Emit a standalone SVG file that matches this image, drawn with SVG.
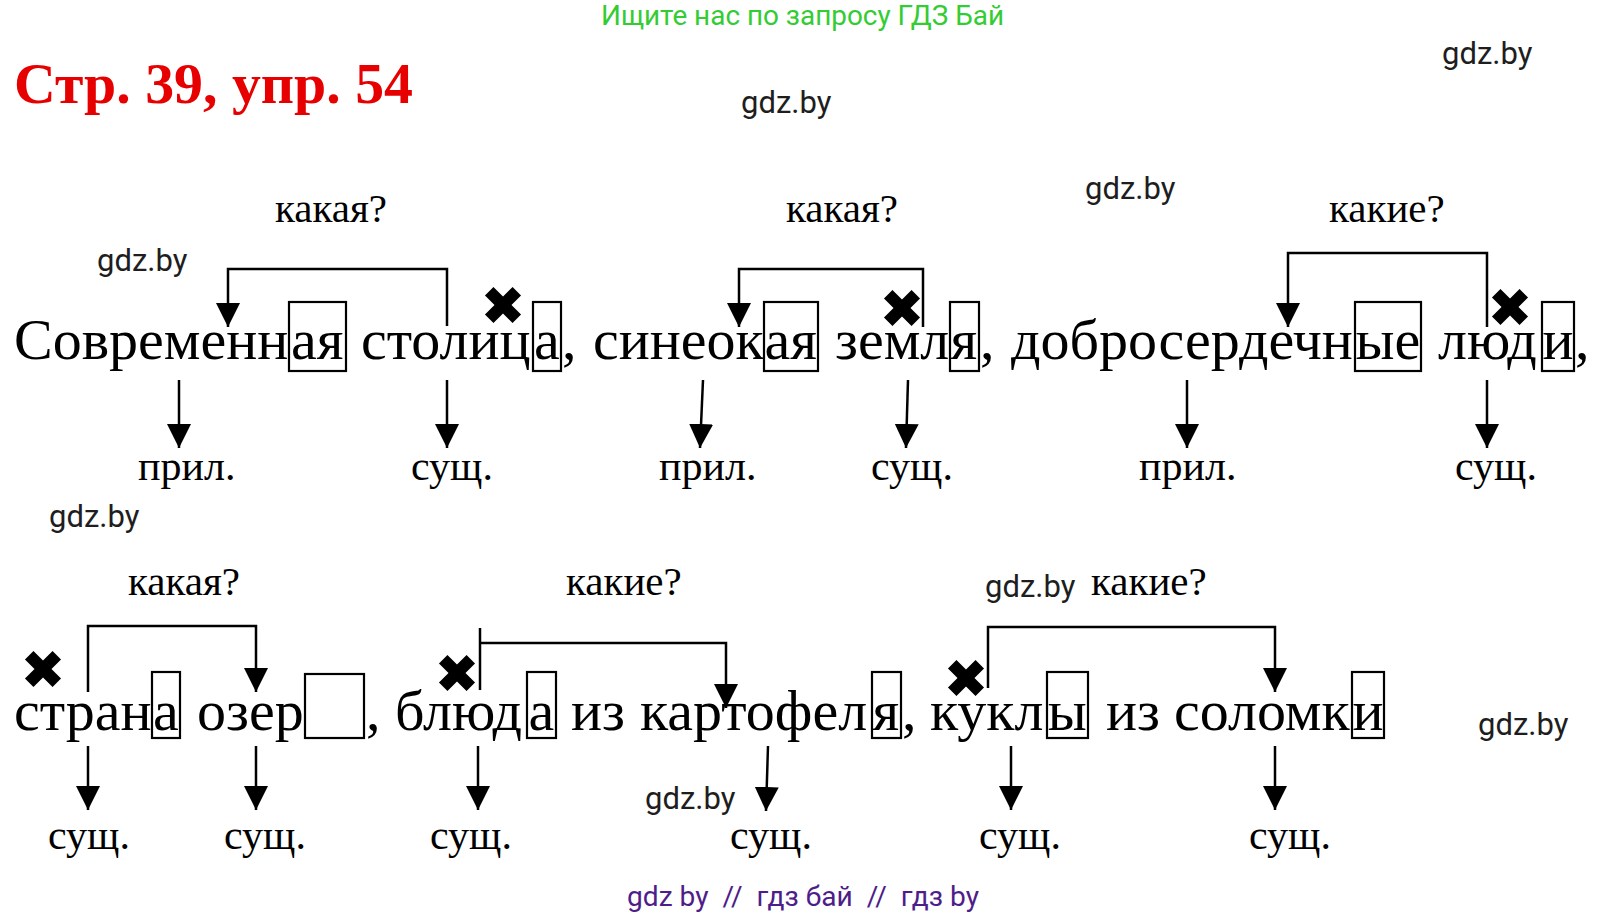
<svg xmlns="http://www.w3.org/2000/svg" xmlns:xlink="http://www.w3.org/1999/xlink" width="1608" height="917" viewBox="0 0 1608 917">
<style>
.main{font-family:"Liberation Serif","Times New Roman",serif;font-size:58px;fill:#000}
.lab{font-family:"Liberation Serif","Times New Roman",serif;font-size:42px;fill:#000}
.q{font-family:"Liberation Serif","Times New Roman",serif;font-size:41px;fill:#000}
.wm{font-family:Roboto,"Noto Sans",sans-serif;font-size:31px;fill:#1e1e1e}
.box{fill:none;stroke:#000;stroke-width:2.2}
.ln{fill:none;stroke:#000;stroke-width:2.5}
.arr{marker-end:url(#ah)}
</style>
<defs>
<marker id="ah" markerUnits="userSpaceOnUse" markerWidth="24" markerHeight="24" refX="24" refY="12" orient="auto" viewBox="0 0 24 24">
<path d="M0,0 L24,12 L0,24 Z" fill="#000"/>
</marker>
<path id="x" d="M-6,-19.5 L6,-19.5 L6,-6 L19.5,-6 L19.5,6 L6,6 L6,19.5 L-6,19.5 L-6,6 L-19.5,6 L-19.5,-6 L-6,-6 Z" transform="rotate(45)" fill="#000"/>
</defs>
<rect width="1608" height="917" fill="#fff"/>

<g id="header">
<text x="601" y="25" font-family="Roboto,'Noto Sans',sans-serif" font-size="27" fill="#33cc33" textLength="403" lengthAdjust="spacingAndGlyphs">Ищите нас по запросу ГДЗ Бай</text>
<text x="14" y="103" font-family="'Liberation Serif','Times New Roman',serif" font-size="58" font-weight="bold" fill="#e60000" textLength="399" lengthAdjust="spacingAndGlyphs">Стр. 39, упр. 54</text>
</g>

<g id="watermarks">
<text class="wm" x="1442" y="64">gdz.by</text>
<text class="wm" x="741" y="113">gdz.by</text>
<text class="wm" x="1085" y="199">gdz.by</text>
<text class="wm" x="97" y="271">gdz.by</text>
<text class="wm" x="49" y="527">gdz.by</text>
<text class="wm" x="985" y="597">gdz.by</text>
<text class="wm" x="1478" y="735">gdz.by</text>
<text class="wm" x="645" y="809">gdz.by</text>
<text x="627" y="906" xml:space="preserve" font-family="Roboto,'Noto Sans',sans-serif" font-size="27" fill="#4e1d8a" textLength="352" lengthAdjust="spacingAndGlyphs">gdz by  //  гдз бай  //  гдз by</text>
</g>

<g id="row1">
<text class="main" y="359"><tspan x="14">Современн</tspan><tspan x="291">ая</tspan><tspan x="361">столиц</tspan><tspan x="534">а</tspan><tspan x="562">,</tspan><tspan x="593">синеок</tspan><tspan x="764.5">ая</tspan><tspan x="835">земл</tspan><tspan x="950.6">я</tspan><tspan x="980">,</tspan><tspan x="1011">добросердечн</tspan><tspan x="1355.5">ые</tspan><tspan x="1438">люд</tspan><tspan x="1542.5">и</tspan><tspan x="1575">,</tspan></text>
<rect class="box" x="289" y="302" width="57" height="69"/>
<rect class="box" x="533" y="302" width="28" height="69"/>
<rect class="box" x="764" y="302" width="54" height="69"/>
<rect class="box" x="950" y="302" width="29" height="69"/>
<rect class="box" x="1355" y="302" width="66" height="69"/>
<rect class="box" x="1542" y="302" width="32" height="69"/>
</g>

<g id="row2">
<text class="main" y="730"><tspan x="14">стран</tspan><tspan x="153">а</tspan><tspan x="197">озер</tspan><tspan x="366">,</tspan><tspan x="395">блюд</tspan><tspan x="528.5">а</tspan><tspan x="571">из</tspan><tspan x="640">картофел</tspan><tspan x="872.6">я</tspan><tspan x="902">,</tspan><tspan x="930">кукл</tspan><tspan x="1047.8">ы</tspan><tspan x="1106">из</tspan><tspan x="1174">соломк</tspan><tspan x="1352.5">и</tspan></text>
<rect class="box" x="152" y="672" width="28" height="66"/>
<rect class="box" x="305" y="674" width="59" height="64"/>
<rect class="box" x="527" y="672" width="29" height="66"/>
<rect class="box" x="872" y="672" width="29" height="66"/>
<rect class="box" x="1047" y="672" width="41" height="66"/>
<rect class="box" x="1352" y="672" width="32" height="66"/>
</g>

<g id="crosses">
<use xlink:href="#x" href="#x" x="503" y="305"/>
<use xlink:href="#x" href="#x" x="902" y="308"/>
<use xlink:href="#x" href="#x" x="1510" y="307"/>
<use xlink:href="#x" href="#x" x="43" y="669"/>
<use xlink:href="#x" href="#x" x="457" y="673"/>
<use xlink:href="#x" href="#x" x="966" y="678"/>
</g>

<g id="questions">
<text class="q" x="275" y="222">какая?</text>
<text class="q" x="786" y="222">какая?</text>
<text class="q" x="1329" y="222">какие?</text>
<text class="q" x="128" y="595">какая?</text>
<text class="q" x="566" y="595">какие?</text>
<text class="q" x="1091" y="595">какие?</text>
</g>

<g id="labels">
<text class="lab" x="138" y="480">прил.</text>
<text class="lab" x="411" y="480">сущ.</text>
<text class="lab" x="659" y="480">прил.</text>
<text class="lab" x="871" y="480">сущ.</text>
<text class="lab" x="1139" y="480">прил.</text>
<text class="lab" x="1455" y="480">сущ.</text>
<text class="lab" x="48" y="849">сущ.</text>
<text class="lab" x="224" y="849">сущ.</text>
<text class="lab" x="430" y="849">сущ.</text>
<text class="lab" x="730" y="849">сущ.</text>
<text class="lab" x="979" y="849">сущ.</text>
<text class="lab" x="1249" y="849">сущ.</text>
</g>

<g id="connectors">
<polyline class="ln arr" points="447,326 447,269 228,269 228,327"/>
<polyline class="ln arr" points="923,327 923,269 739,269 739,327"/>
<polyline class="ln arr" points="1487,327 1487,253 1288,253 1288,327"/>
<polyline class="ln arr" points="88,692 88,626 256,626 256,692"/>
<line class="ln" x1="480" y1="628" x2="480" y2="690"/>
<polyline class="ln arr" points="480,643 726,643 726,708"/>
<polyline class="ln arr" points="988,688 988,627 1275,627 1275,692"/>
<line class="ln arr" x1="179" y1="380" x2="179" y2="448"/>
<line class="ln arr" x1="447" y1="380" x2="447" y2="448"/>
<line class="ln arr" x1="703" y1="380" x2="700" y2="448"/>
<line class="ln arr" x1="908" y1="380" x2="906" y2="448"/>
<line class="ln arr" x1="1187" y1="380" x2="1187" y2="448"/>
<line class="ln arr" x1="1487" y1="380" x2="1487" y2="448"/>
<line class="ln arr" x1="88" y1="746" x2="88" y2="810"/>
<line class="ln arr" x1="256" y1="746" x2="256" y2="810"/>
<line class="ln arr" x1="478" y1="746" x2="478" y2="810"/>
<line class="ln arr" x1="768" y1="746" x2="766" y2="811"/>
<line class="ln arr" x1="1011" y1="746" x2="1011" y2="810"/>
<line class="ln arr" x1="1275" y1="746" x2="1275" y2="810"/>
</g>
</svg>
